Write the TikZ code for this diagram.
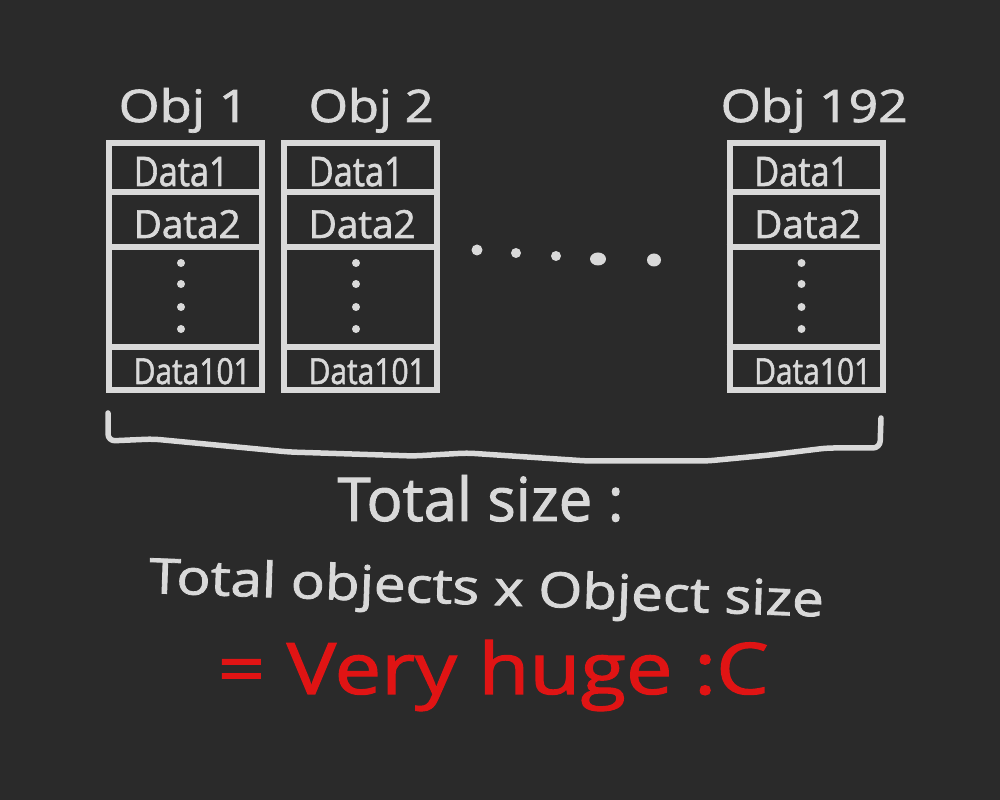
\documentclass[tikz,border=0pt]{standalone}
\usepackage{fontspec}
\setmainfont[FakeBold=1.6,AutoFakeBold=1.6]{Open Sans}
\usepackage{graphicx}
\definecolor{bg}{HTML}{2A2A2A}
\definecolor{fg}{HTML}{D9D9D9}
\definecolor{hred}{HTML}{E01414}
\tikzset{
  objbox/.style={draw=fg, line width=0.6mm, minimum width=15.3mm, minimum height=24.7mm, inner sep=0pt},
  divline/.style={draw=fg, line width=0.6mm},
  txt/.style={anchor=base west, inner sep=0pt, text=fg, font=\bfseries},
  dotc/.style={fill=fg},
  brace/.style={draw=fg, line width=0.55mm, line join=round, line cap=round, rounded corners=2pt}
}
\begin{document}
\begin{tikzpicture}[x=0.1mm,y=-0.1mm]
\fill[bg] (0,0) rectangle (1000,800);
\useasboundingbox (0,0) rectangle (1000,800);
\coordinate (r1) at (0,192);
\coordinate (r2) at (0,247);
\coordinate (r3) at (0,347);
% labels
\node[txt] (o1) at (118,122) {\resizebox{13mm}{3.4mm}{Obj 1}};
\node[txt] (o2) at (308,122) {\resizebox{12.5mm}{3.4mm}{Obj 2}};
\node[txt] (o3) at (720,122) {\resizebox{18.7mm}{3.4mm}{Obj 192}};
% boxes
\foreach \n/\dx in {1/0,2/175,3/620.5}{
  \node[objbox] (obj\n) at (185.5+\dx,266.5) {};
  \draw[divline] (obj\n.west |- r1) -- (obj\n.east |- r1);
  \draw[divline] (obj\n.west |- r2) -- (obj\n.east |- r2);
  \draw[divline] (obj\n.west |- r3) -- (obj\n.east |- r3);
  \node[txt] (da\n) at (133+\dx,186) {\resizebox{9.5mm}{2.9mm}{Data1}};
  \node[txt] (db\n) at (133+\dx,238) {\resizebox{10.7mm}{2.8mm}{Data2}};
  \node[txt] (dc\n) at (133+\dx,384) {\resizebox{11.7mm}{2.6mm}{Data101}};
  \fill[dotc] (181+\dx,263) circle [radius=0.4mm];
  \fill[dotc] (181+\dx,284) circle [radius=0.4mm];
  \fill[dotc] (181+\dx,307) circle [radius=0.4mm];
  \fill[dotc] (181+\dx,329) circle [radius=0.4mm];
}
% dots between
\fill[dotc] (477,250) circle [radius=0.55mm];
\fill[dotc] (516,253) circle [radius=0.5mm];
\fill[dotc] (556,256) circle [radius=0.5mm];
\fill[dotc] (598,259) circle [x radius=0.8mm, y radius=0.65mm];
\fill[dotc] (654,260) circle [x radius=0.7mm, y radius=0.65mm];
% bracket
\draw[brace] (108,413) -- (108,441) -- (153,439) -- (289,452) -- (414,456) -- (467,453) -- (587,461) -- (707,461) -- (770,455) -- (827,448) -- (880,448) -- (881,418);
% totals
\node[txt] (ts) at (337,521) {\resizebox{28.6mm}{4.6mm}{Total size :}};
\node[txt, rotate=-2] (tf) at (148,593) {\resizebox{67.5mm}{3.7mm}{Total objects x Object size}};
\node[txt, text=hred] (vh) at (217,694) {\resizebox{55.1mm}{5.4mm}{= Very huge :C}};
\end{tikzpicture}
\end{document}
